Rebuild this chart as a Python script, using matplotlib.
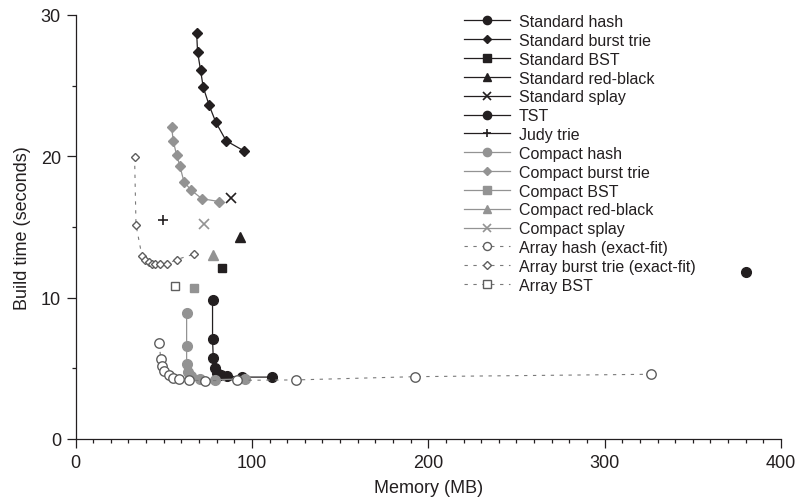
import matplotlib
matplotlib.use("Agg")
import matplotlib.pyplot as plt
from matplotlib.ticker import MultipleLocator

plt.rcParams['font.family'] = ['Liberation Sans', 'DejaVu Sans']

# Memory (MB) and build time (seconds) for each data structure
std_hash_mem = [77.7, 77.7, 78.1, 79.0, 80.5, 82.5, 86.0, 94.5, 111.5]
std_hash_time = [9.8, 7.1, 5.7, 5.0, 4.7, 4.55, 4.45, 4.38, 4.38]

std_burst_mem = [68.7, 69.2, 70.9, 72.4, 75.8, 79.6, 85.4, 95.3]
std_burst_time = [28.7, 27.4, 26.1, 24.9, 23.6, 22.4, 21.1, 20.4]

std_bst_mem = [83.0]
std_bst_time = [12.07]

std_rb_mem = [93.2]
std_rb_time = [14.3]

std_splay_mem = [88.1]
std_splay_time = [17.06]

tst_mem = [380.0]
tst_time = [11.8]

judy_mem = [49.8]
judy_time = [15.52]

cmp_hash_mem = [63.0, 63.0, 63.0, 63.7, 65.3, 70.5, 79.2, 95.9]
cmp_hash_time = [8.92, 6.6, 5.3, 4.72, 4.44, 4.25, 4.2, 4.25]

cmp_burst_mem = [54.5, 55.4, 57.3, 59.2, 61.5, 65.6, 71.7, 81.5]
cmp_burst_time = [22.1, 21.1, 20.1, 19.3, 18.2, 17.6, 17.0, 16.8]

cmp_bst_mem = [67.0]
cmp_bst_time = [10.68]

cmp_rb_mem = [78.1]
cmp_rb_time = [13.02]

cmp_splay_mem = [72.8]
cmp_splay_time = [15.24]

arr_hash_mem = [47.5, 48.3, 49.0, 50.1, 52.8, 55.4, 58.5, 64.5, 73.2, 91.3, 125.0, 192.5, 326.5]
arr_hash_time = [6.79, 5.66, 5.14, 4.83, 4.53, 4.34, 4.25, 4.15, 4.13, 4.15, 4.18, 4.41, 4.58]

arr_burst_mem = [33.5, 34.3, 37.7, 39.6, 41.5, 43.3, 45.2, 47.9, 51.7, 57.3, 67.3]
arr_burst_time = [19.96, 15.15, 12.93, 12.67, 12.5, 12.39, 12.36, 12.36, 12.39, 12.69, 13.09]

arr_bst_mem = [56.6]
arr_bst_time = [10.83]

BLACK = '#231f20'
GREY = '#939393'
OPEN_EDGE = '#5e5e5e'
DOT_LINE = '#7a7a7a'
dotted = (0, (3, 5))

fig = plt.figure(figsize=(7.98, 5.02), dpi=100)
ax = fig.add_axes([75.5 / 798, 62 / 502, (781 - 75.5) / 798, (440 - 16) / 502])

lw = 0.9
ax.plot(std_hash_mem, std_hash_time, color=BLACK, lw=lw, marker='o', ms=7, mec=BLACK, mfc=BLACK, label='Standard hash')
ax.plot(std_burst_mem, std_burst_time, color=BLACK, lw=lw, marker='D', ms=4.6, mec=BLACK, mfc=BLACK, label='Standard burst trie')
ax.plot(std_bst_mem, std_bst_time, color=BLACK, lw=lw, marker='s', ms=6.3, mec=BLACK, mfc=BLACK, label='Standard BST')
ax.plot(std_rb_mem, std_rb_time, color=BLACK, lw=lw, marker='^', ms=6.8, mec=BLACK, mfc=BLACK, label='Standard red-black')
ax.plot(std_splay_mem, std_splay_time, color=BLACK, lw=lw, marker='x', ms=6.5, mew=1.2, mec=BLACK, label='Standard splay')
ax.plot(tst_mem, tst_time, color=BLACK, lw=lw, marker='o', ms=7, mec=BLACK, mfc=BLACK, label='TST')
ax.plot(judy_mem, judy_time, color=BLACK, lw=lw, marker='+', ms=6.5, mew=1.2, mec=BLACK, label='Judy trie')

ax.plot(cmp_hash_mem, cmp_hash_time, color=GREY, lw=lw, marker='o', ms=7, mec=GREY, mfc=GREY, label='Compact hash')
ax.plot(cmp_burst_mem, cmp_burst_time, color=GREY, lw=lw, marker='D', ms=4.6, mec=GREY, mfc=GREY, label='Compact burst trie')
ax.plot(cmp_bst_mem, cmp_bst_time, color=GREY, lw=lw, marker='s', ms=6.3, mec=GREY, mfc=GREY, label='Compact BST')
ax.plot(cmp_rb_mem, cmp_rb_time, color=GREY, lw=lw, marker='^', ms=6.8, mec=GREY, mfc=GREY, label='Compact red-black')
ax.plot(cmp_splay_mem, cmp_splay_time, color=GREY, lw=lw, marker='x', ms=6.5, mew=1.2, mec=GREY, label='Compact splay')

ax.plot(arr_hash_mem, arr_hash_time, color=DOT_LINE, lw=0.8, ls=dotted, marker='o', ms=6.8, mew=1.0,
        mec=OPEN_EDGE, mfc='white', label='Array hash (exact-fit)')
ax.plot(arr_burst_mem, arr_burst_time, color=DOT_LINE, lw=0.8, ls=dotted, marker='D', ms=4.4, mew=1.0,
        mec=OPEN_EDGE, mfc='white', label='Array burst trie (exact-fit)')
ax.plot(arr_bst_mem, arr_bst_time, color=DOT_LINE, lw=0.8, ls=dotted, marker='s', ms=6.3, mew=1.0,
        mec=OPEN_EDGE, mfc='white', label='Array BST')

ax.set_xlim(0, 400)
ax.set_ylim(0, 30)
ax.xaxis.set_major_locator(MultipleLocator(100))
ax.xaxis.set_minor_locator(MultipleLocator(10))
ax.yaxis.set_major_locator(MultipleLocator(10))
ax.yaxis.set_minor_locator(MultipleLocator(5))

for side in ('top', 'right'):
    ax.spines[side].set_visible(False)
for side in ('left', 'bottom'):
    ax.spines[side].set_linewidth(0.9)
    ax.spines[side].set_color(BLACK)

ax.tick_params(which='major', direction='out', length=6.5, width=0.9, color=BLACK,
               labelsize=13, labelcolor=BLACK, pad=4)
ax.tick_params(which='minor', direction='out', length=3, width=0.9, color=BLACK)

ax.set_xlabel('Memory (MB)', fontsize=13, color=BLACK, labelpad=6)
ax.set_ylabel('Build time (seconds)', fontsize=13, color=BLACK, labelpad=7)

leg = ax.legend(loc='upper left', bbox_to_anchor=(464 / 798, 1 - 15 / 502),
                bbox_transform=fig.transFigure, frameon=False, fontsize=11.5,
                handlelength=2.9, handletextpad=0.55, labelspacing=0.24,
                borderpad=0, borderaxespad=0, numpoints=1, markerscale=0.85)
for t in leg.get_texts():
    t.set_color(BLACK)

fig.savefig('out.png', dpi=100)
